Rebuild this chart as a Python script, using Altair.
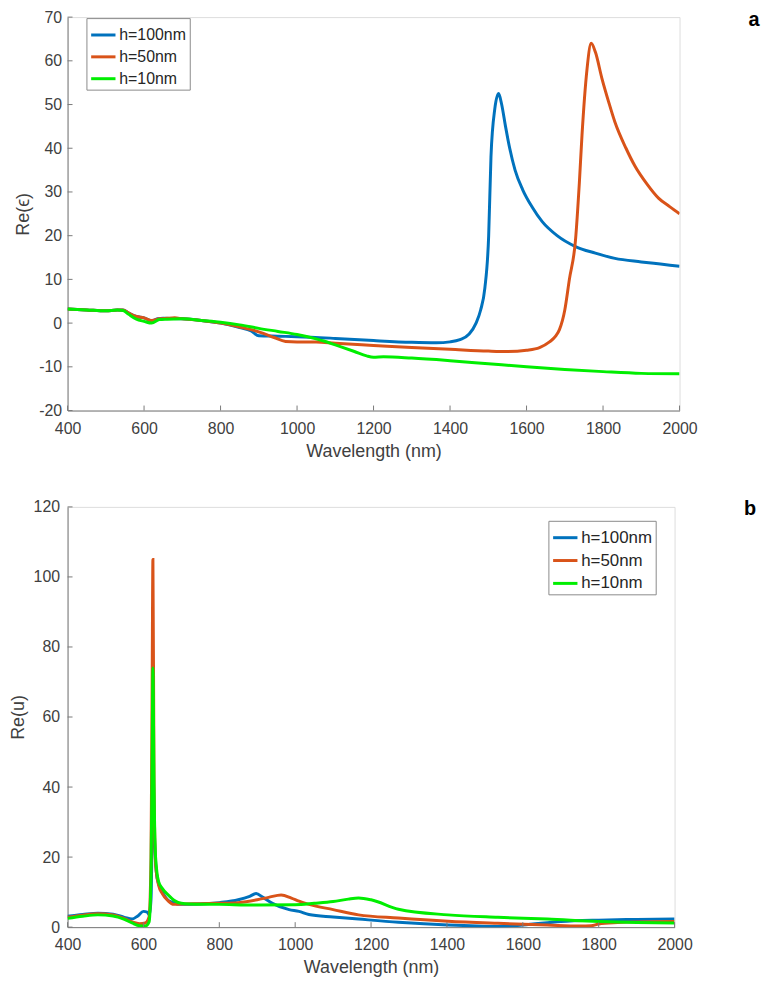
import altair as alt
import pandas as pd

SERIES = ["h=100nm", "h=50nm", "h=10nm"]
COLORS = ["#0072BD", "#D95319", "#00EE00"]

# ---- Panel a: Re(eps) ----
a_wl_100 = [400, 450, 500, 530, 545, 560, 580, 600, 620, 635, 650, 700, 750, 800, 850, 880, 900, 950, 1000,
            1100, 1200, 1300, 1364, 1400, 1426, 1450, 1468, 1480, 1491, 1501, 1507, 1517, 1527, 1535, 1545,
            1556, 1570, 1590, 1615, 1641, 1680, 1728, 1780, 1831, 1900, 1950, 2000]
a_re_100 = [3.2, 3.0, 2.8, 3.0, 3.0, 2.3, 1.5, 1.2, 0.5, 1.0, 1.1, 1.0, 0.6, 0.0, -1.0, -1.8, -2.9, -3.0, -3.1,
            -3.5, -4.0, -4.4, -4.5, -4.3, -3.8, -2.5, 0.0, 3.0, 8.0, 20.0, 38.0, 49.0, 52.5, 50.0, 45.0,
            40.0, 35.0, 30.5, 26.5, 23.2, 20.0, 17.5, 16.0, 14.8, 14.0, 13.5, 13.0]

a_wl_50 = [400, 450, 500, 530, 545, 560, 580, 600, 620, 640, 660, 680, 700, 750, 800, 850, 880, 910, 940, 970,
           1000, 1050, 1100, 1200, 1300, 1400, 1500, 1550, 1600, 1634, 1660, 1676, 1686, 1700, 1712, 1728, 1738,
           1745, 1758, 1769, 1780, 1797, 1815, 1831, 1860, 1883, 1915, 1945, 1975, 2000]
a_re_50 = [3.2, 3.0, 2.8, 3.0, 3.0, 2.3, 1.5, 1.2, 0.6, 1.0, 1.1, 1.2, 1.0, 0.6, 0.0, -0.9, -1.5, -2.3, -3.3, -4.2,
           -4.3, -4.3, -4.6, -5.1, -5.6, -6.0, -6.4, -6.5, -6.2, -5.6, -4.3, -3.0, -1.5, 3.0, 10.0, 19.0, 32.0,
           43.0, 58.0, 64.0, 62.0, 56.0, 50.5, 46.0, 40.0, 36.0, 31.8, 28.6, 26.6, 25.0]

a_wl_10 = [400, 450, 500, 530, 545, 560, 580, 600, 620, 640, 660, 700, 750, 800, 850, 900, 950, 1000, 1050, 1070,
           1100, 1150, 1182, 1200, 1226, 1300, 1400, 1500, 1600, 1700, 1800, 1900, 2000]
a_re_10 = [3.2, 3.0, 2.8, 3.0, 2.9, 2.0, 0.9, 0.4, 0.0, 0.8, 0.9, 1.0, 0.6, 0.2, -0.4, -1.2, -1.9, -2.6, -3.6, -4.1,
           -5.0, -6.5, -7.5, -7.8, -7.7, -8.0, -8.6, -9.3, -10.0, -10.6, -11.1, -11.5, -11.6]

# ---- Panel b: Re(u) ----
b_wl_100 = [400, 440, 480, 520, 550, 570, 585, 600, 610, 615, 620, 623, 625, 628, 636, 650, 662, 678, 700, 750,
            800, 850, 880, 897, 915, 940, 984, 1010, 1036, 1100, 1167, 1272, 1403, 1534, 1600, 1700, 1800, 1900, 2000]
b_re_100 = [3.1, 3.6, 4.0, 3.7, 2.8, 2.3, 3.2, 4.5, 4.3, 3.5, 8.0, 30.0, 55.0, 30.0, 14.0, 10.0, 8.0, 7.0, 6.5, 6.6,
            7.0, 7.8, 8.8, 9.6, 8.5, 6.8, 5.0, 4.5, 3.6, 2.9, 2.3, 1.4, 0.6, 0.2, 0.6, 1.6, 2.0, 2.2, 2.3]

b_wl_50 = [400, 440, 480, 520, 550, 570, 590, 605, 615, 620, 623, 625, 628, 632, 640, 650, 665, 680, 700, 750, 800,
           850, 900, 930, 963, 990, 1010, 1036, 1100, 1167, 1272, 1403, 1534, 1665, 1750, 1780, 1800, 1850, 1900, 2000]
b_re_50 = [2.8, 3.4, 3.8, 3.5, 2.4, 1.5, 1.0, 1.2, 3.0, 20.0, 70.0, 105.0, 40.0, 18.0, 12.0, 9.5, 7.5, 6.5, 6.6, 6.7,
           6.8, 7.0, 7.8, 8.5, 9.2, 8.3, 7.4, 6.5, 5.0, 3.5, 2.6, 1.7, 1.1, 0.6, 0.3, 0.4, 0.9, 1.3, 1.5, 1.6]

b_wl_10 = [400, 440, 480, 520, 550, 570, 590, 605, 615, 620, 623, 625, 628, 632, 640, 650, 665, 683, 700, 720, 800,
           900, 1000, 1050, 1100, 1140, 1167, 1200, 1272, 1403, 1534, 1665, 1800, 1900, 2000]
b_re_10 = [2.5, 3.1, 3.5, 3.2, 2.2, 1.2, 0.4, 0.3, 1.5, 15.0, 50.0, 74.0, 40.0, 20.0, 13.0, 11.0, 9.2, 7.5, 6.8, 6.6,
           6.5, 6.3, 6.4, 6.8, 7.3, 8.0, 8.3, 7.8, 5.1, 3.5, 2.8, 2.3, 1.6, 1.3, 1.2]

x_ticks = [400, 600, 800, 1000, 1200, 1400, 1600, 1800, 2000]
a_y_ticks = [-20, -10, 0, 10, 20, 30, 40, 50, 60, 70]
b_y_ticks = [0, 20, 40, 60, 80, 100, 120]

AX = "#7a7a7a"
LBL = "#404040"
FONT = "Liberation Sans"


def make_df(pairs):
    rows = []
    for name, wls, vals in pairs:
        for w, v in zip(wls, vals):
            rows.append({"wl": w, "val": v, "series": name})
    return pd.DataFrame(rows)


def panel(df, ydom, yticks, ytitle, W, H, legx, legy, legfs, rowpad, tag, tagx, tagy, ylabpad):
    x_enc = alt.X("wl:Q", scale=alt.Scale(domain=[400, 2000], nice=False, zero=False),
                  axis=alt.Axis(values=x_ticks, title="Wavelength (nm)", ticks=False, labelPadding=10,
                                titlePadding=6, grid=False, domainColor=AX, labelColor=LBL,
                                titleColor=LBL, labelFontSize=16, titleFontSize=18,
                                titleFontWeight="normal", labelFont=FONT, titleFont=FONT,
                                labelFlush=False, labelExpr="toString(datum.value)"))
    y_enc = alt.Y("val:Q", scale=alt.Scale(domain=ydom, nice=False, zero=False),
                  axis=alt.Axis(values=yticks, title=ytitle, ticks=False, labelPadding=ylabpad,
                                titlePadding=6, grid=False, domainColor=AX, labelColor=LBL,
                                titleColor=LBL, labelFontSize=16, titleFontSize=18,
                                titleFontWeight="normal", labelFont=FONT, titleFont=FONT,
                                labelFlush=False, labelExpr="toString(datum.value)"))
    color = alt.Color("series:N", scale=alt.Scale(domain=SERIES, range=COLORS),
                      legend=alt.Legend(title=None, orient="none", legendX=legx, legendY=legy,
                                        symbolType="stroke", symbolSize=600, symbolStrokeWidth=3,
                                        labelFontSize=legfs, labelFont=FONT, labelColor="#262626",
                                        strokeColor="#8a8a8a", fillColor="white", padding=3,
                                        rowPadding=rowpad, labelOffset=2, cornerRadius=0))
    layers = []
    for s in SERIES:
        layers.append(alt.Chart(df).transform_filter(alt.datum.series == s)
                      .mark_line(strokeWidth=3, interpolate="monotone", clip=True)
                      .encode(x=x_enc, y=y_enc, color=color))
    xt = alt.Chart(pd.DataFrame({"wl": x_ticks})).mark_rule(color=AX, strokeWidth=1).encode(
        x=x_enc, y=alt.value(H), y2=alt.value(H - 5))
    yt = alt.Chart(pd.DataFrame({"val": yticks})).mark_rule(color=AX, strokeWidth=1).encode(
        y=y_enc, x=alt.value(0), x2=alt.value(5))
    label = alt.Chart(pd.DataFrame({"t": [tag]})).mark_text(
        fontSize=20, fontWeight="bold", font=FONT, color="black", align="center", baseline="middle"
    ).encode(text="t:N", x=alt.value(tagx), y=alt.value(tagy))
    return alt.layer(*layers, xt, yt, label).properties(width=W, height=H)


df_a = make_df([(SERIES[0], a_wl_100, a_re_100), (SERIES[1], a_wl_50, a_re_50), (SERIES[2], a_wl_10, a_re_10)])
df_b = make_df([(SERIES[0], b_wl_100, b_re_100), (SERIES[1], b_wl_50, b_re_50), (SERIES[2], b_wl_10, b_re_10)])

top = panel(df_a, [-20, 70], a_y_ticks, "Re(ϵ)", 616, 396, 19, 1, 16, -2, "a", 691, 3, 6)
bot = panel(df_b, [0, 120], b_y_ticks, "Re(u)", 611, 423, 484, 14, 17, 1, "b", 687, 2, 8)

chart = alt.vconcat(top, bot, spacing=37).resolve_scale(color="independent").resolve_legend(
    color="independent").properties(padding={"left": 8, "top": 5, "right": 0, "bottom": 0}).configure_view(
    stroke=None).configure(background="white")

chart.save("out.html", embed_options={"renderer": "svg", "actions": False})
